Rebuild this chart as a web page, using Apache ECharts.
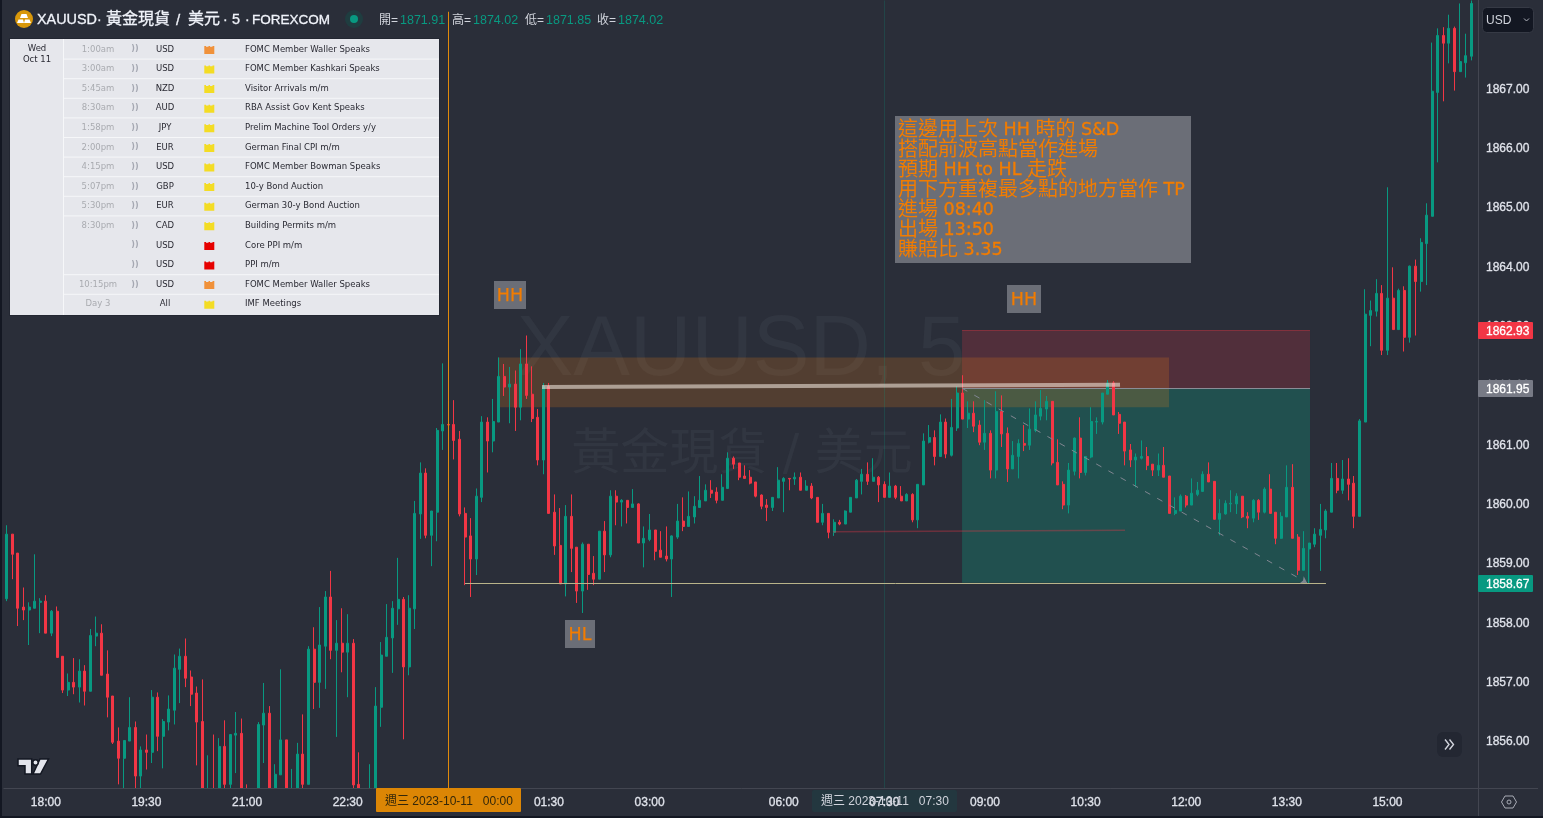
<!DOCTYPE html>
<html><head><meta charset="utf-8">
<style>html,body{margin:0;padding:0;background:#2a2e39;overflow:hidden}#c{width:1543px;height:818px}</style>
<script src="https://cdn.jsdelivr.net/npm/echarts@6/dist/echarts.min.js"></script>
</head><body><div id="c"></div>
<script>
// ---- OHLC values (index 0 = 17:25) ----
const opens=[
1858.40,1859.49,1859.17,1858.26,1858.21,1858.24,1858.34,1858.36,1857.82,1858.19,
1857.43,1856.86,1856.99,1856.91,1857.18,1856.84,1857.77,1857.82,1857.13,1856.76,
1856.00,1855.71,1856.00,1856.23,1855.41,1855.85,1855.81,1856.74,1856.08,1856.32,
1856.52,1857.21,1857.43,1857.08,1856.81,1856.33,1854.90,1855.10,1855.10,1855.91,
1855.27,1856.10,1856.13,1855.00,1854.90,1854.90,1856.27,1856.47,1855.10,1855.43,
1856.02,1854.90,1855.10,1855.78,1855.27,1857.55,1856.99,1857.60,1858.43,1857.53,
1857.65,1857.50,1857.65,1855.27,1855.00,1854.90,1855.10,1856.57,1857.43,1857.74,
1858.23,1858.39,1857.25,1858.23,1859.83,1860.52,1859.47,1859.86,1861.23,1861.34,
1861.34,1861.09,1859.84,1859.46,1859.07,1860.11,1861.38,1861.06,1861.38,1862.15,
1861.97,1862.02,1861.63,1862.36,1861.85,1861.46,1860.74,1861.98,1859.86,1859.30,
1858.65,1859.79,1859.27,1858.53,1859.32,1858.83,1858.73,1859.54,1859.14,1860.13,
1860.03,1860.06,1859.94,1860.00,1859.34,1859.40,1859.56,1859.22,1859.12,1859.07,
1859.44,1859.71,1859.62,1859.78,1859.94,1860.05,1860.23,1860.20,1860.06,1860.26,
1860.77,1860.69,1860.47,1860.45,1860.37,1860.15,1859.98,1859.94,1860.10,1860.38,
1860.43,1860.42,1860.45,1860.23,1860.30,1860.11,1859.69,1859.84,1859.52,1859.69,
1859.66,1859.86,1860.10,1860.38,1860.50,1860.38,1860.45,1860.33,1860.11,1860.30,
1860.13,1860.05,1860.16,1859.73,1860.32,1861.04,1861.12,1860.80,1861.38,1860.82,
1861.28,1861.87,1861.43,1861.53,1861.33,1861.04,1861.19,1860.57,1861.56,1861.19,
1860.59,1860.80,1861.02,1860.99,1861.24,1861.48,1861.60,1861.73,1860.70,1860.33,
1859.98,1860.55,1861.11,1860.53,1860.79,1861.38,1861.38,1861.85,1862.04,1861.51,
1861.38,1860.91,1860.74,1860.77,1860.80,1860.67,1860.57,1860.65,1860.47,1859.84,
1859.88,1860.13,1859.98,1860.16,1860.21,1860.50,1860.38,1859.74,1859.83,1860.00,
1860.00,1860.13,1859.79,1859.76,1860.06,1859.86,1860.25,1859.86,1859.42,1859.78,
1860.28,1859.44,1858.88,1859.24,1859.32,1859.47,1859.56,1859.86,1860.43,1860.23,
1860.42,1860.35,1859.79,1861.38,1863.18,1863.25,1863.55,1862.59,1863.47,1862.94,
1863.60,1862.81,1864.01,1863.75,1864.39,1864.85,1866.94,1867.90,1867.77,1868.02,
1867.29,1867.44,1867.55];
const closes=[
1859.49,1859.15,1858.24,1858.21,1858.26,1858.36,1858.36,1857.82,1858.19,1857.41,
1856.86,1856.99,1856.91,1857.18,1856.84,1857.78,1857.82,1857.11,1856.74,1855.98,
1855.71,1856.01,1856.23,1855.41,1855.85,1855.81,1856.74,1856.08,1856.33,1856.54,
1857.23,1857.43,1857.06,1856.79,1856.32,1855.10,1855.10,1854.90,1855.91,1855.27,
1856.11,1856.13,1855.10,1854.90,1854.70,1856.28,1856.47,1855.10,1855.44,1856.02,
1855.10,1855.10,1855.78,1855.27,1857.55,1856.99,1857.62,1858.43,1857.53,1857.65,
1857.50,1857.65,1855.26,1855.00,1854.80,1855.10,1856.59,1857.45,1857.75,1858.24,
1858.39,1857.25,1858.24,1859.84,1860.52,1859.47,1859.88,1861.24,1861.34,1861.33,
1861.07,1859.83,1859.44,1859.07,1860.13,1861.38,1861.06,1861.39,1862.15,1861.97,
1862.02,1861.63,1862.36,1861.83,1861.44,1860.74,1861.98,1859.84,1859.29,1858.65,
1859.79,1859.25,1858.53,1859.32,1858.81,1858.73,1859.54,1859.14,1860.13,1860.03,
1860.06,1859.94,1860.00,1859.34,1859.42,1859.56,1859.20,1859.10,1859.07,1859.46,
1859.71,1859.62,1859.79,1859.96,1860.06,1860.23,1860.18,1860.06,1860.28,1860.77,
1860.67,1860.45,1860.43,1860.35,1860.13,1859.96,1859.94,1860.11,1860.40,1860.43,
1860.42,1860.45,1860.23,1860.30,1860.10,1859.69,1859.84,1859.52,1859.69,1859.66,
1859.88,1860.11,1860.40,1860.50,1860.38,1860.45,1860.32,1860.11,1860.30,1860.11,
1860.05,1860.16,1859.73,1860.33,1861.06,1861.12,1860.80,1861.38,1860.84,1861.29,
1861.87,1861.43,1861.53,1861.31,1861.04,1861.19,1860.57,1861.56,1861.18,1860.59,
1860.82,1861.02,1860.99,1861.26,1861.50,1861.61,1861.73,1860.69,1860.32,1859.98,
1860.57,1861.11,1860.53,1860.80,1861.39,1861.39,1861.87,1862.04,1861.50,1861.36,
1860.89,1860.74,1860.79,1860.80,1860.65,1860.57,1860.65,1860.45,1859.84,1859.89,
1860.13,1859.98,1860.18,1860.23,1860.50,1860.37,1859.74,1859.84,1860.01,1860.01,
1860.13,1859.78,1859.76,1860.06,1859.86,1860.25,1859.84,1859.42,1859.79,1860.28,
1859.42,1858.88,1859.25,1859.34,1859.49,1859.57,1859.88,1860.43,1860.23,1860.42,
1860.33,1859.79,1861.40,1863.20,1863.26,1863.55,1862.59,1863.47,1862.94,1863.60,
1862.81,1864.01,1863.75,1864.41,1864.87,1866.96,1867.90,1867.77,1868.02,1867.29,
1867.46,1867.56,1868.44];
const lows=[
1858.36,1858.73,1857.94,1858.04,1857.62,1858.24,1857.82,1857.82,1857.77,1857.41,
1856.81,1856.76,1856.79,1856.65,1856.60,1856.84,1857.60,1857.11,1856.40,1855.95,
1855.27,1855.10,1856.00,1855.10,1855.10,1855.52,1855.63,1855.83,1855.54,1856.18,
1856.28,1856.64,1856.91,1856.59,1855.59,1855.00,1854.80,1854.80,1855.00,1855.10,
1855.10,1855.46,1855.00,1854.80,1854.60,1854.80,1855.63,1855.00,1855.00,1855.43,
1855.00,1854.80,1855.00,1855.10,1855.27,1856.54,1856.56,1856.88,1857.38,1856.07,
1857.16,1856.74,1855.20,1854.90,1854.70,1854.80,1855.00,1856.24,1857.43,1857.15,
1857.96,1856.03,1857.11,1857.89,1859.41,1859.42,1858.95,1859.37,1860.91,1860.74,
1860.75,1859.79,1858.63,1858.43,1858.80,1860.03,1860.53,1860.87,1861.38,1861.82,
1861.36,1861.23,1861.41,1861.77,1861.38,1860.65,1860.50,1859.84,1859.14,1858.65,
1858.44,1858.85,1858.33,1858.16,1858.55,1858.63,1858.73,1858.85,1859.10,1859.64,
1859.62,1859.67,1859.94,1859.34,1858.93,1859.37,1859.05,1859.10,1859.03,1858.43,
1859.41,1859.54,1859.62,1859.67,1859.94,1860.05,1860.10,1860.01,1860.06,1860.26,
1860.59,1860.40,1860.43,1860.33,1860.11,1859.91,1859.71,1859.88,1860.10,1859.86,
1860.23,1860.32,1860.23,1860.23,1860.08,1859.69,1859.64,1859.42,1859.46,1859.64,
1859.66,1859.86,1860.10,1860.16,1860.32,1860.38,1860.03,1860.11,1860.11,1860.08,
1860.05,1860.05,1859.69,1859.59,1860.32,1861.02,1860.65,1860.80,1860.77,1860.80,
1861.23,1861.43,1861.28,1861.21,1860.99,1860.91,1860.43,1860.43,1860.96,1860.37,
1860.59,1860.43,1860.89,1860.91,1861.21,1861.41,1861.41,1860.65,1860.32,1859.91,
1859.84,1860.48,1860.43,1860.48,1860.77,1861.18,1861.34,1861.85,1861.50,1861.18,
1860.65,1860.62,1860.28,1860.75,1860.57,1860.47,1860.47,1860.45,1859.84,1859.81,
1859.88,1859.94,1859.98,1860.13,1860.21,1860.37,1859.74,1859.47,1859.82,1859.86,
1859.83,1859.76,1859.59,1859.69,1859.73,1859.84,1859.84,1859.32,1859.41,1859.78,
1859.42,1858.80,1858.88,1858.66,1859.27,1858.87,1859.42,1859.86,1860.18,1860.17,
1860.06,1859.59,1859.79,1861.38,1862.66,1863.16,1862.51,1862.51,1862.94,1862.94,
1862.57,1862.72,1862.84,1863.58,1863.69,1864.85,1865.76,1866.79,1867.43,1866.97,
1867.29,1867.19,1867.48];
const highs=[
1859.64,1859.49,1859.17,1858.59,1858.34,1859.15,1858.41,1858.46,1858.21,1858.27,
1857.43,1857.14,1857.40,1857.38,1857.28,1857.89,1858.10,1857.97,1857.53,1856.76,
1856.23,1856.01,1856.74,1856.33,1855.91,1856.11,1856.86,1856.82,1856.37,1856.77,
1857.46,1857.56,1857.73,1857.19,1856.92,1857.04,1855.76,1856.11,1856.05,1856.35,
1856.11,1856.49,1856.38,1855.27,1855.00,1856.32,1856.98,1856.59,1855.61,1857.21,
1856.02,1855.53,1855.97,1856.45,1857.60,1857.92,1858.26,1858.53,1858.87,1858.04,
1858.24,1858.14,1857.72,1855.81,1855.10,1855.61,1856.91,1857.67,1858.31,1858.36,
1859.09,1858.43,1858.46,1860.05,1860.70,1860.60,1859.88,1861.28,1862.37,1861.95,
1861.75,1861.23,1859.94,1859.76,1860.26,1861.48,1861.46,1861.77,1862.47,1862.36,
1862.31,1862.25,1862.61,1862.84,1862.32,1861.60,1862.04,1862.04,1860.16,1859.93,
1859.98,1860.16,1859.27,1859.35,1859.32,1859.12,1859.54,1859.71,1860.23,1860.23,
1860.08,1860.06,1860.25,1860.01,1859.62,1859.83,1859.56,1859.54,1859.62,1859.47,
1860.00,1860.11,1860.21,1860.13,1860.47,1860.33,1860.40,1860.28,1860.50,1860.87,
1860.80,1860.69,1860.65,1860.57,1860.37,1860.16,1860.08,1860.11,1860.62,1860.45,
1860.43,1860.53,1860.53,1860.40,1860.35,1860.11,1860.00,1859.84,1859.74,1859.73,
1859.89,1860.11,1860.42,1860.59,1860.70,1860.77,1860.47,1860.38,1860.53,1860.32,
1860.30,1860.18,1860.18,1860.33,1861.19,1861.33,1861.24,1861.51,1861.44,1861.77,
1861.98,1862.17,1861.73,1861.73,1861.41,1861.75,1861.24,1861.90,1861.83,1861.29,
1861.06,1861.09,1861.33,1861.61,1861.73,1861.92,1861.82,1861.73,1861.09,1860.38,
1860.69,1861.12,1861.46,1860.80,1861.63,1861.46,1861.87,1862.09,1862.07,1861.55,
1861.38,1861.01,1860.85,1861.07,1860.96,1860.67,1860.85,1860.96,1860.47,1860.11,
1860.16,1860.15,1860.43,1860.37,1860.55,1860.70,1860.38,1860.08,1860.06,1860.23,
1860.18,1860.13,1859.86,1860.08,1860.08,1860.28,1860.50,1859.86,1859.86,1860.65,
1860.67,1859.49,1859.54,1859.34,1859.59,1860.00,1859.91,1860.69,1860.69,1860.74,
1860.77,1860.47,1861.43,1863.62,1863.43,1863.79,1863.69,1865.34,1863.99,1863.63,
1863.67,1864.02,1864.12,1864.48,1865.07,1867.78,1868.02,1868.04,1868.25,1868.05,
1868.44,1867.93,1868.49];

const timeTicks=['18:00','19:30','21:00','22:30','01:30','03:00','06:00','07:30','09:00','10:30','12:00','13:30','15:00'];
const priceTicks=[1856,1857,1858,1859,1860,1861,1862,1863,1864,1865,1866,1867];
const priceTags=[['1862.93','#f23645','#ffffff',330.5],['1861.95','#787b86','#ffffff',388.5],['1858.67','#089981','#ffffff',583.5]];
const noteLines=['這邊用上次 HH 時的 S&D','搭配前波高點當作進場','預期 HH to HL 走跌','用下方重複最多點的地方當作 TP','進場 08:40','出場 13:50','賺賠比 3.35'];
const legendOHLC=[['開=','1871.91',379],['高=','1874.02',452],['低=','1871.85',525],['收=','1874.02',597]];

const evTimes=['1:00am','3:00am','5:45am','8:30am','1:58pm','2:00pm','4:15pm','5:07pm','5:30pm','8:30pm','','','10:15pm','Day 3'];
const evCur=['USD','USD','NZD','AUD','JPY','EUR','USD','GBP','EUR','CAD','USD','USD','USD','All'];
const evImpact=['o','y','y','y','y','y','y','y','y','y','r','r','o','y'];
const evNames=['FOMC Member Waller Speaks','FOMC Member Kashkari Speaks','Visitor Arrivals m/m','RBA Assist Gov Kent Speaks','Prelim Machine Tool Orders y/y','German Final CPI m/m','FOMC Member Bowman Speaks','10-y Bond Auction','German 30-y Bond Auction','Building Permits m/m','Core PPI m/m','PPI m/m','FOMC Member Waller Speaks','IMF Meetings'];

// Drawing zones, in bar units and prices
const zoneOrange=[88.39,208.43,1862.47,1861.63];
const zoneRed=[171.4,233.65,1862.93,1861.95];
const zoneGreen=[171.4,233.65,1861.95,1858.67];
const levelWhite=[96.26,1861.97,199.66,1862.01];
const levelSupport=[82.49,1858.67,236.5,1858.67];
const levelThin=[148.3,1859.53,200.55,1859.555];
const levelDash=[171.4,1861.95,233.1,1858.67];
const crossOrangeBar=79.45, crossGreenBar=157.44, yMin=1855.2, yMax=1868.49;

// Categories: 5-minute bars from 17:25, with the 05:00-06:00 market break
const categories=[];
(function(){let m=17*60+25;for(let i=0;i<264;i++){categories.push(String(Math.floor(m/60)%24).padStart(2,'0')+':'+String(m%60).padStart(2,'0'));m+=5;if(m%1440===300)m+=60;}})();
const ohlc=opens.map((o,i)=>[o,closes[i],lows[i],highs[i]]);

const UI='"Liberation Sans",Arial,sans-serif', CJK='"Liberation Sans","Noto Sans CJK TC",sans-serif', NOTE='"DejaVu Sans","Noto Sans CJK TC",sans-serif', TBL='"DejaVu Sans",Verdana,sans-serif';
const g=[];
const rect=(x,y,w,h,fill,z,extra)=>g.push(Object.assign({type:'rect',silent:true,z:z,shape:{x,y,width:w,height:h,r:(extra&&extra.r)||0},style:Object.assign({fill},(extra&&extra.style)||{})}));
const text=(x,y,t,font,size,fill,z,align,weight,extra)=>g.push({type:'text',silent:true,z:z,x,y,style:Object.assign({text:t,fontFamily:font,fontSize:size,fill,align:align||'left',verticalAlign:'middle',fontWeight:weight||'normal'},extra||{})});
const line=(x1,y1,x2,y2,c,w,z)=>g.push({type:'line',silent:true,z:z,shape:{x1,y1,x2,y2},style:{stroke:c,lineWidth:w}});
const NOTE_C='#f27c00';
const noteRich={a:{fontFamily:'"Noto Sans CJK TC",sans-serif',fontSize:20,fill:NOTE_C,lineHeight:20},b:{fontFamily:'"DejaVu Sans",sans-serif',fontSize:17.5,fill:NOTE_C,stroke:NOTE_C,lineWidth:0.35,lineHeight:20,padding:[4,0,0,0]}};
const toRich=t=>t.split(/([\u3400-\u9fff]+)/).filter(s=>s).map(s=>/[\u3400-\u9fff]/.test(s)?'{a|'+s+'}':'{b|'+s+'}').join('');

// watermark
text(741,352,'XAUUSD, 5',UI,85,'rgba(120,123,134,0.10)',0,'center');
text(742,456,'黃金現貨 / 美元',NOTE,49,'rgba(120,123,134,0.10)',0,'center');

// chrome
rect(0,0,2,818,'#131722',50);
rect(0,816,1543,2,'#131722',50);
rect(2,789,1476,27,'#2a2e39',10);
rect(1479,789,64,27,'#2a2e39',10);
line(1478,788.5,1538,788.5,'#434651',1,50);
line(1478.5,0,1478.5,816,'#434651',1,50);

// header
g.push({type:'circle',silent:true,z:60,shape:{cx:24,cy:19,r:9},style:{fill:'#d9980a'}});
g.push({type:'polygon',silent:true,z:61,shape:{points:[[21.5,14],[26.5,14],[28,18],[20,18]]},style:{fill:'#fff'}});
g.push({type:'polygon',silent:true,z:61,shape:{points:[[18.5,19.5],[23,19.5],[24,23],[17,23]]},style:{fill:'#fff'}});
g.push({type:'polygon',silent:true,z:61,shape:{points:[[25,19.5],[29.5,19.5],[31,23],[24,23]]},style:{fill:'#fff'}});
const hdrStroke={stroke:'#f0f3fa',lineWidth:0.3};
[[37,'XAUUSD',14.4,UI],[97,'·',14,UI],[106,'黃金現貨',16,CJK],[176,'/',15,UI],[188,'美元',16,CJK],[223,'·',14,UI],[232,'5',14.4,UI],[245,'·',14,UI],[252,'FOREXCOM',13.5,UI]].forEach(p=>text(p[0],p[3]===CJK?20:20.5,p[1],p[3],p[2],'#f0f3fa',60,'left','normal',hdrStroke));
g.push({type:'circle',silent:true,z:60,shape:{cx:354,cy:19,r:9},style:{fill:'#1f3d40'}});
g.push({type:'circle',silent:true,z:61,shape:{cx:354,cy:19,r:4},style:{fill:'#089981'}});
legendOHLC.forEach(r=>{text(r[2],20.5,r[0],CJK,12,'#d1d4dc',60);text(r[2]+21,20.5,r[1],UI,12.5,'#089981',60);});

// USD button
rect(1482.5,7.5,51,25,'#131722',60,{r:4,style:{stroke:'#363a45',lineWidth:1}});
text(1486,20.5,'USD',UI,12,'#d1d4dc',61);
g.push({type:'polyline',silent:true,z:61,shape:{points:[[1524,18.5],[1526.5,21],[1529,18.5]]},style:{stroke:'#b2b5be',lineWidth:1,fill:'none'}});

// axis crosshair tags
rect(376,788,145,24,'#dc8605',60,{r:1});
text(385,802,'週三 2023-10-11   00:00',CJK,12,'#33270a',61);
rect(812,790,145,22,'#23373f',15,{r:2});
text(821,802,'週三 2023-10-11   07:30',CJK,12,'#d1d4dc',61);

// price tags
priceTags.forEach(t=>{rect(1478,t[3]-8.5,55,17,t[1],60,{r:1});text(1486,t[3]+1.2,t[0],UI,12,t[2],61,'left','normal',{stroke:t[2],lineWidth:0.3});});

// scroll button, settings, logo
rect(1437,732,25,25,'#232732',60,{r:6});
[[1445,739.5,1449,744.5,1445,749.5],[1449.5,739.5,1453.5,744.5,1449.5,749.5]].forEach(p=>g.push({type:'polyline',silent:true,z:61,shape:{points:[[p[0],p[1]],[p[2],p[3]],[p[4],p[5]]]},style:{stroke:'#d1d4dc',lineWidth:1.4,fill:'none'}}));
g.push({type:'polygon',silent:true,z:60,shape:{points:[[1505,796],[1513,796],[1516.5,802],[1513,808],[1505,808],[1501.5,802]]},style:{stroke:'#a8abb5',lineWidth:1,fill:'none'}});
g.push({type:'circle',silent:true,z:60,shape:{cx:1509,cy:802,r:2},style:{stroke:'#a8abb5',lineWidth:1,fill:'none'}});
const logo={stroke:'#131722',lineWidth:1.5,fill:'#e3e5ec'};
g.push({type:'polygon',silent:true,z:60,shape:{points:[[18,759],[31.7,759],[31.7,774],[25,774],[25,765.7],[18,765.7]]},style:logo});
g.push({type:'polygon',silent:true,z:60,shape:{points:[[40,759],[48.5,759],[40.5,774],[33,774]]},style:logo});
g.push({type:'circle',silent:true,z:60,shape:{cx:35.5,cy:762.5,r:2.7},style:logo});

// HH / HL labels
[[494,281,32,28,'HH'],[565,620,30,28,'HL'],[1007,285,34,28,'HH']].forEach(b=>{rect(b[0],b[1],b[2],b[3],'#6b6e77',40);text(b[0]+b[2]/2,b[1]+b[3]/2+1.5,b[4],NOTE,17.5,NOTE_C,41,'center','normal',{stroke:NOTE_C,lineWidth:0.25});});

// note box
rect(895,116,296,147,'#6b6e77',40);
noteLines.forEach((t,i)=>g.push({type:'text',silent:true,z:41,x:898,y:128+i*20,style:{text:toRich(t),rich:noteRich,align:'left',verticalAlign:'middle'}}));

// calendar table
rect(9,38,431,278,'#232732',40);
rect(10,39,429,276,'#e6e7ec',41);
line(63.5,39,63.5,315,'#f6f7f9',1,42);
const rowH=19.6, tableTop=39;
evNames.forEach((n,i)=>{
  const cy=tableTop+rowH*(i+0.5)+0.6;
  if(i>0 && i!==10 && i!==11) line(64,tableTop+rowH*i+0.5,439,tableTop+rowH*i+0.5,'#f6f7f9',1,42);
  if(evTimes[i]) text(98,cy,evTimes[i],TBL,8.5,'#a9abb0',43,'center');
  if(i<13) text(135,cy,'))',TBL,8,'#a5a8b2',43,'center','bold');
  text(165,cy,evCur[i],TBL,8.5,'#2a2a33',43,'center');
  const c={o:'#f0913a',y:'#f3dc24',r:'#e60000'}[evImpact[i]];
  const iy=cy+0.5;
  g.push({type:'polygon',silent:true,z:43,shape:{points:[[204.3,iy-4],[206,iy-4],[206,iy-3.2],[208.5,iy-3.2],[208.5,iy-4],[210,iy-4],[210,iy-3.2],[212.5,iy-3.2],[212.5,iy-4],[214.3,iy-4],[214.3,iy+4],[204.3,iy+4]]},style:{fill:c}});
  text(245,cy,n,TBL,8.5,'#2a2a33',43);
});
text(37,49,'Wed',TBL,8.5,'#2a2a33',43,'center');
text(37,59.5,'Oct 11',TBL,8.5,'#2a2a33',43,'center');

const ml=(a,color,width,type,symbol)=>[{coord:[a[0],a[1]],lineStyle:{color,width,type:type||'solid'},symbol:'none'},{coord:[a[2],a[3]],symbol:symbol||'none',symbolSize:6}];
const ma=(a,color)=>[{coord:[a[0],a[2]],itemStyle:{color}},{coord:[a[1],a[3]]}];

const chart=echarts.init(document.getElementById('c'),null,{renderer:'canvas',width:1543,height:818});
chart.setOption({
 animation:false,
 backgroundColor:'#2a2e39',
 grid:{left:3.9,right:63.3,top:0.5,height:788,containLabel:false},
 xAxis:[
  {type:'category',data:categories,boundaryGap:true,z:20,
   axisLine:{show:true,lineStyle:{color:'#434651',width:1}},axisTick:{show:false},splitLine:{show:false},
   axisLabel:{color:'#e0e3eb',fontFamily:UI,fontSize:12,margin:8,hideOverlap:false,textBorderColor:'#e0e3eb',textBorderWidth:0.3,interval:(i,v)=>timeTicks.includes(v)}},
  {type:'value',min:0,max:264,show:false,splitLine:{show:false}}
 ],
 yAxis:{type:'value',position:'right',min:yMin,max:yMax,scale:true,z:20,
  axisLine:{show:false,onZero:false},axisTick:{show:false},splitLine:{show:false},
  axisLabel:{margin:6.3,customValues:priceTicks,formatter:v=>'{p|'+v.toFixed(2)+'}',
   rich:{p:{color:'#e0e3eb',fontFamily:UI,fontSize:12,padding:[1.5,0,0,0],textBorderColor:'#e0e3eb',textBorderWidth:0.3}}}},
 series:[
  {type:'line',name:'zones',xAxisIndex:1,yAxisIndex:0,z:1,data:[],silent:true,
   markArea:{silent:true,z:1,label:{show:false},data:[ma(zoneRed,'rgba(242,54,69,0.2)'),ma(zoneGreen,'rgba(12,158,130,0.31)'),ma(zoneOrange,'rgba(245,130,20,0.2)')]},
   markLine:{silent:true,z:1,animation:false,symbol:'none',label:{show:false},data:[
     ml([crossGreenBar,yMin,crossGreenBar,yMax],'rgba(8,153,129,0.22)',1),
     ml([zoneRed[0],zoneRed[2],zoneRed[1],zoneRed[2]],'rgba(242,54,69,0.35)',1),
     ml([zoneRed[0],zoneRed[3],zoneRed[1],zoneRed[3]],'#8a8d97',1)
   ]}},
  {type:'candlestick',name:'XAUUSD',xAxisIndex:0,yAxisIndex:0,z:3,data:ohlc,barWidth:2.5,clip:true,
   itemStyle:{color:'#089981',color0:'#f23645',borderColor:'#089981',borderColor0:'#f23645',borderWidth:1}},
  {type:'line',name:'drawings',xAxisIndex:1,yAxisIndex:0,z:6,data:[],silent:true,
   markLine:{silent:true,z:6,animation:false,symbol:'none',label:{show:false},data:[
     ml(levelSupport,'#b9b48a',1),
     ml(levelThin,'rgba(242,54,69,0.33)',1.5),
     ml(levelDash,'#808691',1,[6,8],'arrow'),
     ml(levelWhite,'rgba(240,230,220,0.58)',4),
     ml([crossOrangeBar,yMin,crossOrangeBar,1868.3],'#e08a0b',1)
   ]}}
 ],
 graphic:{elements:g}
});
</script></body></html>
